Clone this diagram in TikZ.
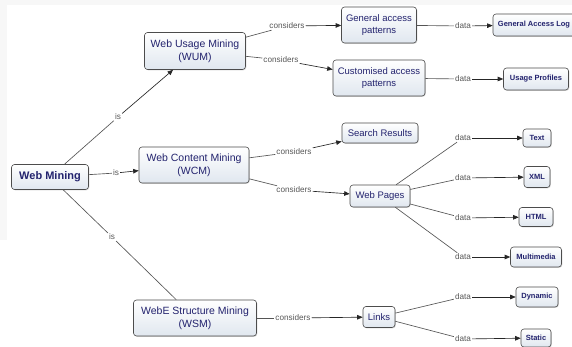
\documentclass[tikz,border=0pt]{standalone}
\usepackage{fontspec}
\setmainfont{Liberation Sans}
\usetikzlibrary{arrows.meta}
\usetikzlibrary{shadows}
\definecolor{cmapnavy}{RGB}{35,35,110}
\definecolor{cmapfill}{RGB}{224,231,239}
\definecolor{cmapline}{RGB}{85,85,85}

\begin{document}
\begin{tikzpicture}[x=1pt,y=1pt,
        concept/.style={rectangle,rounded corners=3pt,draw=black!70,line width=0.6pt,top color=white,bottom color=cmapfill,text=cmapnavy,align=center,font=\fontsize{9.5}{11.5}\selectfont,inner xsep=3pt,inner ysep=3pt,drop shadow={shadow xshift=0.8pt,shadow yshift=-0.8pt,fill=black!30}},
        mainbox/.style={concept,font=\fontsize{10.5}{13}\selectfont},
        leaf/.style={concept,font=\bfseries\fontsize{7.5}{9}\selectfont,inner xsep=2pt,inner ysep=2pt},
        phrase/.style={text=black!65,font=\fontsize{8.2}{9}\selectfont,inner sep=1pt},
        lnk/.style={draw=cmapline,line width=0.65pt},
        arr/.style={lnk,draw=black!85,-{Triangle[length=5.5pt,width=4.5pt]}},
        ]
        \fill[white] (0,0) rectangle (572,-347);
        \fill[black!3] (0,0) rectangle (572,-5);
        \fill[black!3] (0,0) rectangle (7,-240);
        \useasboundingbox (0,0) rectangle (572,-347);

        % concepts
        \node[concept,font=\bfseries\fontsize{11}{13}\selectfont,minimum width=77,minimum height=25](wm) at (50,-177){Web Mining};
        \node[mainbox,minimum width=101,minimum height=37](wum) at (195,-51){Web Usage Mining\\(WUM)};
        \node[mainbox,minimum width=110,minimum height=36](wcm) at (194,-165){Web Content Mining\\(WCM)};
        \node[mainbox,minimum width=123,minimum height=36](wsm) at (195,-318){WebE Structure Mining\\(WSM)};

        \node[concept,minimum width=75,minimum height=36](gen_pat) at (379,-25){General access\\patterns};
        \node[concept,minimum width=92,minimum height=36](cust_pat) at (379,-78){Customised access\\patterns};
        \node[concept,minimum width=76,minimum height=20](search_res) at (380,-133){Search Results};
        \node[concept,minimum width=60,minimum height=22](web_pages) at (380,-196){Web Pages};
        \node[concept,minimum width=32,minimum height=21](links) at (379,-317){Links};

        % leaves
        \node[leaf,minimum width=82,minimum height=22](gen_log) at (534,-25){General Access Log};
        \node[leaf,minimum width=65,minimum height=22](usage_prof) at (536,-79){Usage Profiles};
        \node[leaf,minimum width=28,minimum height=18](txt) at (537,-138){Text};
        \node[leaf,minimum width=26,minimum height=21](xml) at (537,-177){XML};
        \node[leaf,minimum width=34,minimum height=19](html) at (536,-217){HTML};
        \node[leaf,minimum width=51,minimum height=20](multimedia) at (536,-257){Multimedia};
        \node[leaf,minimum width=42,minimum height=20](dynamic) at (537,-297){Dynamic};
        \node[leaf,minimum width=30,minimum height=18](static_n) at (536,-338){Static};

        % linking phrases
        \node[phrase](is_wum) at (118,-117){is};
        \node[phrase](is_wcm) at (116,-173){is};
        \node[phrase](is_wsm) at (112,-237){is};
        \node[phrase](cons_gen) at (287,-26){considers};
        \node[phrase](cons_cust) at (281,-60){considers};
        \node[phrase](cons_search) at (294,-152){considers};
        \node[phrase](cons_pages) at (294,-190){considers};
        \node[phrase](cons_links) at (293,-318){considers};
        \node[phrase](data_log) at (463,-26){data};
        \node[phrase](data_prof) at (463,-79){data};
        \node[phrase](data_txt) at (463,-138){data};
        \node[phrase](data_xml) at (463,-178){data};
        \node[phrase](data_html) at (463,-218){data};
        \node[phrase](data_mm) at (463,-257){data};
        \node[phrase](data_dyn) at (463,-297){data};
        \node[phrase](data_stat) at (463,-339){data};

        % connectors
        \draw[lnk] (wm) -- (is_wum);
        \draw[arr] (is_wum) -- (wum);
        \draw[lnk] (wm) -- (is_wcm);
        \draw[arr] (is_wcm) -- (wcm);
        \draw[lnk] (wm) -- (is_wsm);
        \draw[lnk] (is_wsm) -- (wsm);

        \draw[lnk] (wum) -- (cons_gen);
        \draw[arr] (cons_gen) -- (gen_pat);
        \draw[lnk] (wum) -- (cons_cust);
        \draw[arr] (cons_cust) -- (cust_pat);
        \draw[lnk] (wcm) -- (cons_search);
        \draw[arr] (cons_search) -- (search_res);
        \draw[lnk] (wcm) -- (cons_pages);
        \draw[arr] (cons_pages) -- (web_pages);
        \draw[lnk] (wsm) -- (cons_links);
        \draw[arr] (cons_links) -- (links);

        \draw[lnk] (gen_pat) -- (data_log);
        \draw[arr] (data_log) -- (gen_log);
        \draw[lnk] (cust_pat) -- (data_prof);
        \draw[arr] (data_prof) -- (usage_prof);
        \draw[lnk] (web_pages) -- (data_txt);
        \draw[arr] (data_txt) -- (txt);
        \draw[lnk] (web_pages) -- (data_xml);
        \draw[arr] (data_xml) -- (xml);
        \draw[lnk] (web_pages) -- (data_html);
        \draw[arr] (data_html) -- (html);
        \draw[lnk] (web_pages) -- (data_mm);
        \draw[arr] (data_mm) -- (multimedia);
        \draw[lnk] (links) -- (data_dyn);
        \draw[arr] (data_dyn) -- (dynamic);
        \draw[lnk] (links) -- (data_stat);
        \draw[arr] (data_stat) -- (static_n);
        \end{tikzpicture}
\end{document}
